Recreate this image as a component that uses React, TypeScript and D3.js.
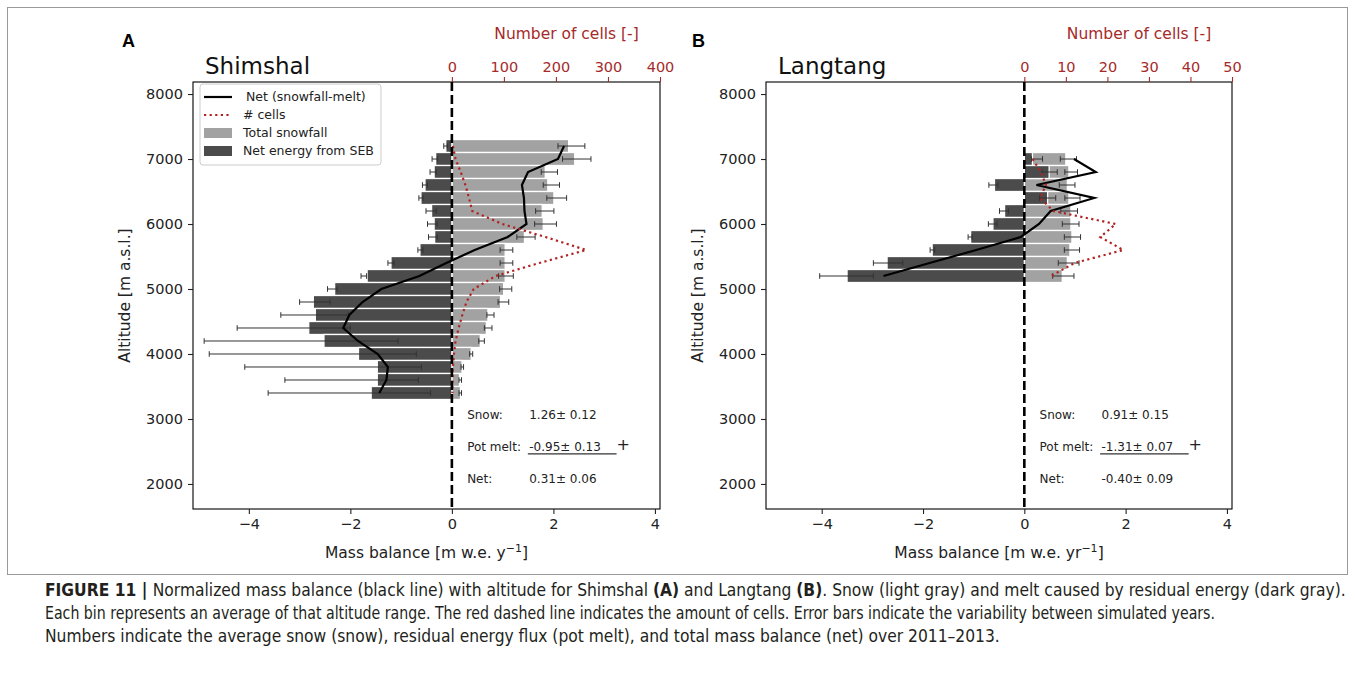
import React, { useEffect, useRef } from 'react';
import * as d3 from 'd3';

const W = 1355;
const H = 679;

// Shimshal (panel A), bins of 200 m, from top to bottom
const shimAlt = [7200, 7000, 6800, 6600, 6400, 6200, 6000, 5800, 5600, 5400, 5200, 5000, 4800, 4600, 4400, 4200, 4000, 3800, 3600, 3400];
const shimSnow = [2.3, 2.42, 1.84, 1.89, 2.01, 1.78, 1.8, 1.43, 1.05, 1.05, 1.05, 1.02, 0.96, 0.71, 0.68, 0.56, 0.38, 0.2, 0.15, 0.17];
const shimSnowErr = [[2.09, 2.62], [2.18, 2.74], [1.76, 2.08], [1.8, 2.12], [1.87, 2.26], [1.65, 2.01], [1.63, 2.06], [1.28, 1.64], [0.95, 1.2], [0.95, 1.2], [0.92, 1.21], [0.94, 1.18], [0.91, 1.12], [0.69, 0.83], [0.64, 0.79], [0.53, 0.64], [0.35, 0.41], [0.18, 0.23], [0.14, 0.19], [0.14, 0.19]];
const shimMelt = [-0.12, -0.32, -0.35, -0.53, -0.61, -0.4, -0.35, -0.34, -0.63, -1.2, -1.67, -2.31, -2.73, -2.69, -2.82, -2.52, -1.84, -1.47, -1.47, -1.59];
const shimMeltErr = [[-0.16, -0.09], [-0.39, -0.28], [-0.43, -0.31], [-0.58, -0.48], [-0.65, -0.57], [-0.51, -0.31], [-0.48, -0.29], [-0.46, -0.29], [-0.67, -0.57], [-1.26, -1.14], [-1.79, -1.68], [-2.45, -2.26], [-3.0, -2.4], [-3.37, -2.04], [-4.23, -2.0], [-4.88, -1.06], [-4.78, -0.7], [-4.08, -0.6], [-3.29, -0.66], [-3.62, -0.42]];
const shimNet = [2.21, 2.09, 1.5, 1.38, 1.42, 1.43, 1.47, 1.1, 0.45, -0.11, -0.64, -1.39, -1.76, -2.02, -2.14, -1.85, -1.46, -1.26, -1.29, -1.43];
const shimCells = [2, 7, 17, 26, 33, 39, 97, 180, 258, 168, 84, 42, 28, 20, 13, 7, 4, 2, 1, 1];
const shimCellTicks = [0, 100, 200, 300, 400];
const shimStats = ['1.26\u00b1 0.12', '-0.95\u00b1 0.13', '0.31\u00b1 0.06'];

// Langtang (panel B)
const langAlt = [7000, 6800, 6600, 6400, 6200, 6000, 5800, 5600, 5400, 5200];
const langSnow = [0.82, 0.88, 0.85, 0.88, 0.92, 0.92, 0.94, 0.9, 0.85, 0.75];
const langSnowErr = [[0.71, 1.03], [0.8, 1.05], [0.69, 1.0], [0.8, 1.1], [0.72, 1.05], [0.75, 1.08], [0.79, 1.11], [0.79, 1.09], [0.67, 1.08], [0.56, 0.98]];
const langMelt = [0.16, 0.49, -0.59, 0.46, -0.39, -0.62, -1.06, -1.82, -2.71, -3.5];
const langMeltErr = [[0.14, 0.36], [0.35, 0.65], [-0.7, -0.52], [0.3, 0.62], [-0.49, -0.31], [-0.71, -0.54], [-1.11, -1.03], [-1.86, -1.77], [-2.98, -2.4], [-4.04, -2.98]];
const langNet = [0.98, 1.41, 0.24, 1.38, 0.52, 0.29, -0.07, -0.95, -1.87, -2.78];
const langCells = [2, 4, 5.2, 3.8, 7, 22, 18.3, 23.8, 12.1, 6.4];
const langCellTicks = [0, 10, 20, 30, 40, 50];
const langStats = ['0.91\u00b1 0.15', '-1.31\u00b1 0.07', '-0.40\u00b1 0.09'];

const statLabels = ['Snow:', 'Pot melt:', 'Net:'];
const mbTicks = [-4, -2, 0, 2, 4];
const altTicks = [2000, 3000, 4000, 5000, 6000, 7000, 8000];
const legendLabels = ['Net (snowfall-melt)', '# cells', 'Total snowfall', 'Net energy from SEB'];

const captionLines: [string, boolean][][] = [
  [['FIGURE 11 | ', true], ['Normalized mass balance (black line) with altitude for Shimshal ', false], ['(A)', true], [' and Langtang ', false], ['(B)', true], ['. Snow (light gray) and melt caused by residual energy (dark gray).', false]],
  [['Each bin represents an average of that altitude range. The red dashed line indicates the amount of cells. Error bars indicate the variability between simulated years.', false]],
  [['Numbers indicate the average snow (snow), residual energy flux (pot melt), and total mass balance (net) over 2011\u20132013.', false]],
];

const FONT = 'DejaVu Sans, Verdana, sans-serif';
const RED = '#a52a2a';
const LIGHT = '#a2a2a2';
const DARK = '#4b4b4b';
const X_DOMAIN = [-5.1, 4.1];
const Y_DOMAIN = [1615, 8185];

function drawPanel(svg: any, p: any) {
  const g = svg.append('g').attr('transform', `translate(${p.left},${p.top})`);
  const x = d3.scaleLinear().domain(X_DOMAIN).range([0, p.width]);
  const y = d3.scaleLinear().domain(Y_DOMAIN).range([p.height, 0]);
  const xc = d3.scaleLinear().domain([(X_DOMAIN[0] / X_DOMAIN[1]) * p.cellMax, p.cellMax]).range([0, p.width]);
  const bh = y(0) - y(200);
  const idx = d3.range(p.alt.length);

  const bars = (vals: number[], fill: string) =>
    g.append('g').selectAll('rect').data(idx).join('rect')
      .attr('x', (i: number) => x(Math.min(0, vals[i])))
      .attr('width', (i: number) => Math.abs(x(vals[i]) - x(0)))
      .attr('y', (i: number) => y(p.alt[i]) - bh / 2)
      .attr('height', bh)
      .attr('fill', fill)
      .attr('stroke', '#fff')
      .attr('stroke-width', 1.3);
  bars(p.snow, LIGHT);
  bars(p.melt, DARK);

  const whiskers = (errs: number[][]) => {
    const eg = g.append('g').attr('stroke', '#333').attr('stroke-width', 1);
    idx.forEach((i: number) => {
      const yy = y(p.alt[i]);
      const [lo, hi] = errs[i];
      eg.append('line').attr('x1', x(lo)).attr('x2', x(hi)).attr('y1', yy).attr('y2', yy);
      eg.append('line').attr('x1', x(lo)).attr('x2', x(lo)).attr('y1', yy - 2.8).attr('y2', yy + 2.8);
      eg.append('line').attr('x1', x(hi)).attr('x2', x(hi)).attr('y1', yy - 2.8).attr('y2', yy + 2.8);
    });
  };
  whiskers(p.snowErr);
  whiskers(p.meltErr);

  const netLine = d3.line<number>().x((i) => x(p.net[i])).y((i) => y(p.alt[i]));
  g.append('path').attr('d', netLine(idx)).attr('fill', 'none').attr('stroke', '#000').attr('stroke-width', 2.2);

  const cellLine = d3.line<number>().x((i) => xc(p.cells[i])).y((i) => y(p.alt[i]));
  g.append('path').attr('d', cellLine(idx)).attr('fill', 'none').attr('stroke', '#b22222')
    .attr('stroke-width', 2.2).attr('stroke-dasharray', '2.2,3.4');

  g.append('line').attr('x1', x(0)).attr('x2', x(0)).attr('y1', 0).attr('y2', p.height)
    .attr('stroke', '#000').attr('stroke-width', 2.6).attr('stroke-dasharray', '9,4');

  g.append('rect').attr('width', p.width).attr('height', p.height).attr('fill', 'none')
    .attr('stroke', '#000').attr('stroke-width', 1.1);

  const styleAxis = (ag: any, color: string) => {
    ag.select('.domain').remove();
    ag.attr('font-family', FONT).attr('font-size', 14.5).attr('color', color);
    ag.selectAll('line').attr('stroke-width', 1.1);
  };
  g.append('g').call(d3.axisLeft(y).tickValues(altTicks).tickSize(5).tickPadding(5).tickFormat(d3.format('d')))
    .call((s: any) => styleAxis(s, '#222'));
  g.append('g').attr('transform', `translate(0,${p.height})`)
    .call(d3.axisBottom(x).tickValues(mbTicks).tickSize(5).tickPadding(5).tickFormat(d3.format('d')))
    .call((s: any) => styleAxis(s, '#222'));
  g.append('g').call(d3.axisTop(xc).tickValues(p.cellTicks).tickSize(5).tickPadding(5).tickFormat(d3.format('d')))
    .call((s: any) => styleAxis(s, RED));

  // labels
  g.append('text').attr('x', p.width / 2 + 140).attr('y', -43).attr('text-anchor', 'middle')
    .attr('font-family', FONT).attr('font-size', 15.5).attr('fill', RED).text('Number of cells [-]');
  const xl = g.append('text').attr('x', p.width / 2).attr('y', p.height + 49).attr('text-anchor', 'middle')
    .attr('font-family', FONT).attr('font-size', 15.5).attr('fill', '#222');
  xl.append('tspan').text(p.xUnit);
  xl.append('tspan').attr('dy', -6).attr('font-size', 11).text('\u22121');
  xl.append('tspan').attr('dy', 6).text(']');
  g.append('text').attr('transform', `translate(${-63},${p.height / 2}) rotate(-90)`)
    .attr('text-anchor', 'middle').attr('font-family', FONT).attr('font-size', 15.5).attr('fill', '#222')
    .text('Altitude [m a.s.l.]');
  g.append('text').attr('x', 12).attr('y', -8).attr('font-family', FONT).attr('font-size', 23)
    .attr('fill', '#111').text(p.title);
  g.append('text').attr('x', p.letterX).attr('y', -35).attr('font-family', 'Liberation Sans, Arial, sans-serif')
    .attr('font-weight', 'bold').attr('font-size', 18).attr('fill', '#000').text(p.letter);

  // stats
  const fy = [0.78, 0.855, 0.93];
  statLabels.forEach((lab, i) => {
    const yy = p.height * fy[i];
    g.append('text').attr('x', p.width * 0.587).attr('y', yy).attr('dominant-baseline', 'middle')
      .attr('font-family', FONT).attr('font-size', 12).attr('fill', '#222').text(lab);
    g.append('text').attr('x', p.width * 0.72).attr('y', yy).attr('dominant-baseline', 'middle')
      .attr('font-family', FONT).attr('font-size', 12).attr('fill', '#222').text(p.stats[i]);
  });
  g.append('line').attr('x1', p.width * 0.717).attr('x2', p.width * 0.907)
    .attr('y1', p.height * 0.871).attr('y2', p.height * 0.871).attr('stroke', '#333').attr('stroke-width', 1.3);
  g.append('text').attr('x', p.width * 0.921).attr('y', p.height * 0.852).attr('text-anchor', 'middle')
    .attr('dominant-baseline', 'middle').attr('font-family', FONT).attr('font-size', 16).attr('fill', '#222').text('+');
  return g;
}

function drawLegend(g: any) {
  const lg = g.append('g').attr('transform', 'translate(7,2)');
  lg.append('rect').attr('width', 181).attr('height', 81).attr('rx', 3).attr('fill', '#fff').attr('fill-opacity', 0.85)
    .attr('stroke', '#ccc').attr('stroke-width', 1);
  const rows = [13, 31, 49, 67];
  lg.append('line').attr('x1', 4).attr('x2', 32).attr('y1', rows[0]).attr('y2', rows[0]).attr('stroke', '#000').attr('stroke-width', 2.2);
  lg.append('line').attr('x1', 4).attr('x2', 32).attr('y1', rows[1]).attr('y2', rows[1]).attr('stroke', '#b22222')
    .attr('stroke-width', 2.2).attr('stroke-dasharray', '2.2,3.4');
  lg.append('rect').attr('x', 4).attr('y', rows[2] - 5).attr('width', 28).attr('height', 10).attr('fill', LIGHT);
  lg.append('rect').attr('x', 4).attr('y', rows[3] - 5).attr('width', 28).attr('height', 10).attr('fill', DARK);
  legendLabels.forEach((t, i) => {
    lg.append('text').attr('x', i === 0 ? 46 : 43).attr('y', rows[i]).attr('dominant-baseline', 'middle')
      .attr('font-family', FONT).attr('font-size', 12.5).attr('fill', '#222').text(t);
  });
}

export default function App() {
  const ref = useRef<SVGSVGElement>(null);
  useEffect(() => {
    const svg = d3.select(ref.current);
    svg.selectAll('*').remove();
    svg.append('rect').attr('width', W).attr('height', H).attr('fill', '#fff');
    svg.append('rect').attr('x', 7.5).attr('y', 7.5).attr('width', 1340).attr('height', 567)
      .attr('fill', 'none').attr('stroke', '#9a9a9a').attr('stroke-width', 1);

    const ga = drawPanel(svg, {
      left: 193, top: 82, width: 467, height: 427, alt: shimAlt, snow: shimSnow, snowErr: shimSnowErr,
      melt: shimMelt, meltErr: shimMeltErr, net: shimNet, cells: shimCells, cellMax: 400, cellTicks: shimCellTicks,
      stats: shimStats, title: 'Shimshal', letter: 'A', letterX: -71, xUnit: 'Mass balance [m w.e. y',
    });
    drawLegend(ga);
    drawPanel(svg, {
      left: 766, top: 82, width: 466, height: 427, alt: langAlt, snow: langSnow, snowErr: langSnowErr,
      melt: langMelt, meltErr: langMeltErr, net: langNet, cells: langCells, cellMax: 50, cellTicks: langCellTicks,
      stats: langStats, title: 'Langtang', letter: 'B', letterX: -74, xUnit: 'Mass balance [m w.e. yr',
    });

    // caption: one font size for all lines, fitted so the first line spans the frame width
    const capX = 45;
    const texts = captionLines.map((segs, li) => {
      const t = svg.append('text').attr('x', capX).attr('y', 596 + li * 23)
        .attr('font-family', 'Liberation Sans Narrow, DejaVu Sans Condensed, Liberation Sans, sans-serif')
        .attr('font-size', 16).attr('fill', '#231f20');
      segs.forEach(([s, b]) => {
        t.append('tspan').attr('font-weight', b ? 'bold' : 'normal').text(s);
      });
      return t;
    });
    const len = (texts[0].node() as SVGTextElement).getComputedTextLength();
    if (len > 0) {
      const fs = Math.min(19, (16 * 1301) / len);
      texts.forEach((t) => t.attr('font-size', fs));
    }
    const len2 = (texts[1].node() as SVGTextElement).getComputedTextLength();
    if (len2 > 1172) texts[1].attr('textLength', 1170).attr('lengthAdjust', 'spacingAndGlyphs');
  }, []);
  return <svg ref={ref} width={W} height={H} style={{ position: 'absolute', left: 0, top: 0 }} />;
}
